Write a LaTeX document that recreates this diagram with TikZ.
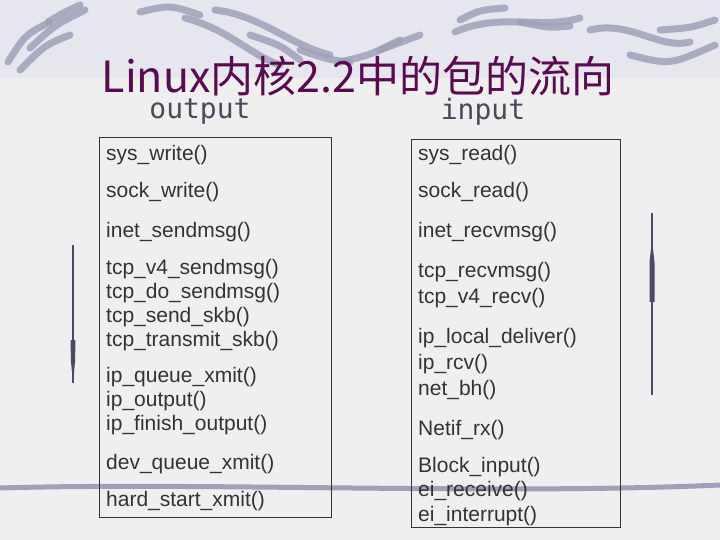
\documentclass[tikz,border=0pt]{standalone}
\usepackage{fontspec}
\setmainfont{Liberation Sans}
\newfontfamily\cjk{Noto Sans CJK SC}
\newfontfamily\hdr{DejaVu Sans Mono}
\definecolor{bg}{HTML}{EFEFEF}
\definecolor{topbg}{HTML}{E6E6EE}
\definecolor{swoosh}{HTML}{A0A0B8}
\definecolor{ttl}{HTML}{5A0A4E}
\definecolor{txt}{HTML}{333333}
\definecolor{hd}{HTML}{4A4A5A}
\definecolor{arr}{HTML}{4A4A66}
\tikzset{
  fn/.style={anchor=west,inner sep=0pt,text=txt,font=\fontsize{21}{21}\selectfont},
  hdrtext/.style={text=hd,font=\hdr\fontsize{28}{28}\selectfont,inner sep=0pt},
  col/.style={draw=txt,line width=0.6pt},
  sw/.style={draw=swoosh,line cap=round,line width=7pt,opacity=0.85},
  flow/.style={draw=arr,line width=2.5pt}
}
\begin{document}
\begin{tikzpicture}[x=1pt,y=-1pt]
\useasboundingbox (0,0) rectangle (720,540);
\fill[bg] (0,0) rectangle (720,540);
\fill[topbg] (0,0) rectangle (720,78);
% top swooshes
\draw[sw] (8,62) .. controls (25,35) .. (50,22);
\draw[sw] (30,48) .. controls (55,25) .. (85,10);
\draw[sw] (20,70) .. controls (45,45) .. (70,35);
\draw[sw] (48,22) .. controls (65,12) .. (80,5);
\draw[sw] (140,12) .. controls (170,5) .. (200,15);
\draw[sw] (185,18) .. controls (230,30) and (250,55) .. (280,65);
\draw[sw] (215,10) .. controls (260,15) and (290,45) .. (330,55);
\draw[sw] (250,35) .. controls (280,45) .. (300,60);
\draw[sw] (300,50) .. controls (330,60) .. (350,62);
\draw[sw] (340,62) .. controls (370,55) .. (400,40);
\draw[sw] (380,50) .. controls (400,42) .. (420,35);
\draw[sw] (460,20) .. controls (480,10) .. (505,8);
\draw[sw] (455,32) .. controls (500,12) and (540,30) .. (580,18);
\draw[sw] (520,22) .. controls (550,28) .. (570,26);
\draw[sw] (590,30) .. controls (630,20) and (660,50) .. (690,42);
\draw[sw] (630,55) .. controls (670,65) .. (715,45);
\draw[sw] (660,30) .. controls (690,28) .. (715,20);
% bottom swoosh
\draw[draw=swoosh,line width=5pt,line cap=round] (0,488) .. controls (200,482) and (500,495) .. (720,485);
% title
\node[text=ttl,font=\cjk\fontsize{43}{43}\selectfont,inner sep=0pt] (title) at (358,76) {Linux内核2.2中的包的流向};
\node[hdrtext] (hout) at (200,112) {output};
\node[hdrtext] (hin) at (483,112) {input};
% boxes
\draw[col] (99,137) rectangle (331,517);
\draw[col] (411,139) rectangle (620,527);
% left column
\node[fn] (a1) at (106,155) {sys\_write()};
\node[fn] (a2) at (106,192) {sock\_write()};
\node[fn] (a3) at (106,232) {inet\_sendmsg()};
\node[fn] (a4) at (106,269) {tcp\_v4\_sendmsg()};
\node[fn] (a5) at (106,293) {tcp\_do\_sendmsg()};
\node[fn] (a6) at (106,317) {tcp\_send\_skb()};
\node[fn] (a7) at (106,341) {tcp\_transmit\_skb()};
\node[fn] (a8) at (106,377) {ip\_queue\_xmit()};
\node[fn] (a9) at (106,401) {ip\_output()};
\node[fn] (a10) at (106,425) {ip\_finish\_output()};
\node[fn] (a11) at (106,464) {dev\_queue\_xmit()};
\node[fn] (a12) at (106,501) {hard\_start\_xmit()};
% right column
\node[fn] (b1) at (418,155) {sys\_read()};
\node[fn] (b2) at (418,192) {sock\_read()};
\node[fn] (b3) at (418,232) {inet\_recvmsg()};
\node[fn] (b4) at (418,272) {tcp\_recvmsg()};
\node[fn] (b5) at (418,298) {tcp\_v4\_recv()};
\node[fn] (b6) at (418,338) {ip\_local\_deliver()};
\node[fn] (b7) at (418,364) {ip\_rcv()};
\node[fn] (b8) at (418,390) {net\_bh()};
\node[fn] (b9) at (418,430) {Netif\_rx()};
\node[fn] (b10) at (418,467) {Block\_input()};
\node[fn] (b11) at (418,491) {ei\_receive()};
\node[fn] (b12) at (418,516) {ei\_interrupt()};
% flow arrows
\coordinate (l1) at (73,245); \coordinate (l2) at (73,383);
\draw[flow] (l1) -- (l2);
\fill[arr] (70.5,340) -- (75.5,340) -- (75,362) -- (73,383) -- (71,362) -- cycle;
\coordinate (r1) at (652,213); \coordinate (r2) at (652,395);
\draw[flow] (r1) -- (r2);
\fill[arr] (649.5,302) -- (654.5,302) -- (654.5,262) -- (652,240) -- (649.5,262) -- cycle;
\end{tikzpicture}
\end{document}
